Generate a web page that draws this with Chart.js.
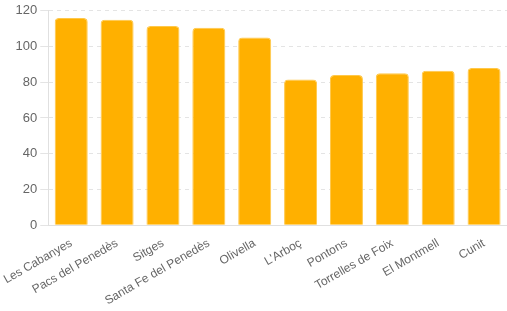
<!DOCTYPE html>
<html lang="en">
<head>
<meta charset="UTF-8">
<title>Bars</title>
<script src="https://cdn.jsdelivr.net/npm/chart.js"></script>
<style>
  html, body { margin: 0; padding: 0; background: #fff; }
  #wrap { width: 507px; height: 311px; }
</style>
</head>
<body>
<div id="wrap"><canvas id="barChart"></canvas></div>
<script>
    // values
    const towns = ['Les Cabanyes', 'Pacs del Penedès', 'Sitges', 'Santa Fe del Penedès', 'Olivella',
                   "L'Arboç", 'Pontons', 'Torrelles de Foix', 'El Montmell', 'Cunit'];
    const values = [116, 115, 111.5, 110.5, 105, 81.5, 84, 85, 86.5, 88];

    var ctx = document.getElementById('barChart').getContext('2d');
    var barChart = new Chart(ctx, {
        type: 'bar',
        data: {
            labels: towns,
            datasets: [{
                data: values,
                backgroundColor: '#ffb000',
                borderColor: '#ffc84a',
                borderWidth: 1,
                borderRadius: 4,
                borderSkipped: 'bottom',
                categoryPercentage: 0.8,
                barPercentage: 0.9
            }]
        },
        options: {
            responsive: true,
            maintainAspectRatio: false,
            animation: false,
            layout: { padding: { top: 0, right: 0, left: 0 } },
            plugins: { legend: { display: false }, tooltip: { enabled: false } },
            scales: {
                x: {
                    grid: { display: false },
                    border: { color: '#e0e0e0' },
                    ticks: { color: '#666', font: { size: 12, family: 'Arial, Liberation Sans' }, maxRotation: 30, minRotation: 30 }
                },
                y: {
                    min: 0,
                    max: 120,
                    grid: { color: '#e4e4e4', drawTicks: true, tickLength: 8 },
                    border: { color: '#e0e0e0', dash: [4, 4] },
                    ticks: { stepSize: 20, color: '#666', padding: 3, font: { size: 13, family: 'Arial, Liberation Sans' } }
                }
            }
        }
    });
</script>
</body>
</html>
